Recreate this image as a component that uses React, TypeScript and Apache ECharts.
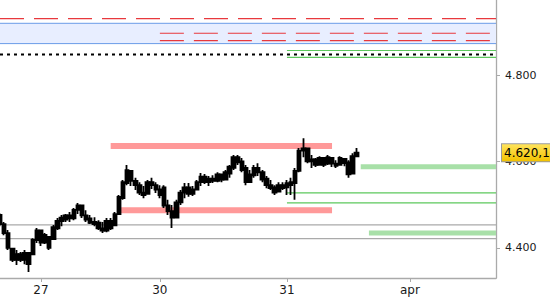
import React, { useEffect, useRef } from "react";
import * as echarts from "echarts";

// x slots (intraday time slots); day labels at session starts
const slotCount = 122;
const dayTicks = ["27", "30", "31", "apr"];
const dayStartIndex = [10, 39, 70, 100];

// OHLC bars: [open, close, low, high]
const bars: number[][] = [
  [4476, 4455, 4450, 4480], [4455, 4434, 4429, 4460], [4434, 4400, 4395, 4441], [4398, 4372, 4367, 4399],
  [4372, 4385, 4360, 4395], [4385, 4372, 4367, 4390], [4372, 4388, 4362, 4395], [4388, 4362, 4344, 4388],
  [4385, 4418, 4383, 4422], [4418, 4440, 4411, 4446], [4440, 4412, 4404, 4436], [4412, 4430, 4409, 4434],
  [4425, 4400, 4395, 4422], [4420, 4448, 4418, 4453], [4445, 4462, 4441, 4469], [4462, 4470, 4450, 4476],
  [4465, 4475, 4460, 4478], [4475, 4468, 4460, 4483], [4468, 4488, 4464, 4492], [4488, 4498, 4478, 4504],
  [4498, 4475, 4469, 4494], [4475, 4465, 4460, 4487], [4468, 4458, 4455, 4476], [4460, 4455, 4450, 4471],
  [4458, 4445, 4441, 4464], [4445, 4440, 4434, 4460], [4440, 4462, 4436, 4469], [4462, 4445, 4441, 4469],
  [4452, 4478, 4450, 4483], [4478, 4518, 4476, 4522], [4515, 4552, 4511, 4557], [4550, 4580, 4545, 4592],
  [4578, 4555, 4543, 4575], [4555, 4545, 4534, 4562], [4545, 4528, 4522, 4552], [4528, 4522, 4515, 4543],
  [4525, 4552, 4529, 4557], [4552, 4545, 4536, 4562], [4545, 4535, 4527, 4552], [4535, 4522, 4515, 4545],
  [4540, 4498, 4492, 4545], [4498, 4485, 4476, 4511], [4485, 4470, 4446, 4499], [4470, 4505, 4476, 4511],
  [4505, 4528, 4499, 4534], [4528, 4540, 4515, 4550], [4540, 4525, 4518, 4550], [4525, 4535, 4520, 4543],
  [4535, 4552, 4534, 4557], [4552, 4565, 4543, 4573], [4565, 4552, 4548, 4571], [4552, 4560, 4543, 4566],
  [4560, 4555, 4550, 4568], [4555, 4570, 4552, 4575], [4570, 4558, 4552, 4571], [4558, 4575, 4557, 4580],
  [4572, 4588, 4562, 4592], [4585, 4610, 4580, 4615], [4610, 4598, 4592, 4615], [4600, 4580, 4575, 4608],
  [4585, 4552, 4545, 4592], [4552, 4570, 4550, 4580], [4568, 4585, 4562, 4592], [4585, 4575, 4566, 4596],
  [4575, 4558, 4552, 4580], [4560, 4545, 4538, 4566], [4545, 4538, 4534, 4557], [4540, 4528, 4522, 4545],
  [4530, 4545, 4529, 4552], [4545, 4538, 4534, 4552], [4540, 4550, 4522, 4557], [4545, 4552, 4522, 4562],
  [4550, 4578, 4511, 4585], [4578, 4625, 4575, 4631], [4625, 4630, 4610, 4654], [4630, 4600, 4596, 4626],
  [4600, 4605, 4585, 4615], [4605, 4592, 4587, 4608], [4592, 4608, 4594, 4612], [4608, 4592, 4587, 4610],
  [4595, 4610, 4592, 4615], [4608, 4595, 4587, 4606], [4595, 4590, 4585, 4603], [4592, 4608, 4596, 4612],
  [4606, 4596, 4589, 4608], [4598, 4570, 4562, 4603], [4572, 4612, 4580, 4619], [4612, 4620.1, 4615, 4631],
];
const lastPrice = 4620.1;

// horizontal levels
const redDashedTop = 4931;
const blueZone = [4873, 4920];
const redDashedPair = [4897, 4880];
const redPairStart = 39;
const dottedLevel = 4848;
const greenTopPair = [4857, 4841];
const greenTopStart = 69.5;
const pinkUpper = 4636;
const pinkUpperRange = [27, 81];
const pinkLower = 4487;
const pinkLowerRange = [29, 81];
const greenThin = [4527, 4504];
const greenThinStart = 69.5;
const greenBand1 = 4588;
const greenBand1Start = 88;
const greenBand2 = 4434;
const greenBand2Start = 90;
const grayLevels = [4453, 4421];

const yTickValues = [4400, 4600, 4800];
const yMin = 4330;
const yMax = 4974;

function fmtEU(v: number, dec: number) {
  const int = Math.floor(v);
  const frac = v - int;
  const s = String(int);
  const th = s.length > 3 ? s.slice(0, s.length - 3) + "." + s.slice(-3) : s;
  if (dec === 0) return th;
  return th + "," + Math.round(frac * Math.pow(10, dec)).toString();
}

export default function App() {
  const ref = useRef<HTMLDivElement>(null);
  useEffect(() => {
    document.body.style.margin = "0";
    const chart = echarts.init(ref.current!, undefined, { renderer: "svg" });
    const cats: string[] = [];
    for (let i = 0; i < slotCount; i++) {
      const k = dayStartIndex.indexOf(i);
      cats.push(k >= 0 ? dayTicks[k] : "");
    }
    const last = slotCount - 1;
    const hLine = (name: string, v: number, x0: number, x1: number, ls: any, z = 2) => ({
      name,
      type: "line",
      data: [[x0, v], [x1, v]],
      showSymbol: false,
      symbol: "none",
      silent: true,
      animation: false,
      z,
      lineStyle: ls,
    });
    const series: any[] = [
      {
        name: "blueZone",
        type: "line",
        data: [],
        silent: true,
        markArea: {
          silent: true,
          itemStyle: { color: "#e8eeff" },
          data: [[{ yAxis: blueZone[0] }, { yAxis: blueZone[1] }]],
        },
      },
      hLine("blueTop", blueZone[1], 0, last, { color: "#6b9be8", width: 1 }),
      hLine("blueBottom", blueZone[0], 0, last, { color: "#6b9be8", width: 1 }),
      hLine("redTop", redDashedTop, 0, last, { color: "#e8383d", width: 1.2, type: [24, 10] }),
      hLine("redPair1", redDashedPair[0], redPairStart, last, { color: "#e8383d", width: 1.2, type: [24, 10] }),
      hLine("redPair2", redDashedPair[1], redPairStart, last, { color: "#e8383d", width: 1.2, type: [24, 10] }),
      hLine("greenTop1", greenTopPair[0], greenTopStart, last, { color: "#5cc85c", width: 1.2 }),
      hLine("greenTop2", greenTopPair[1], greenTopStart, last, { color: "#5cc85c", width: 1.2 }),
      hLine("dotted", dottedLevel, 0, last, { color: "#000", width: 2, type: [3, 4] }, 3),
      hLine("pinkUpper", pinkUpper, pinkUpperRange[0], pinkUpperRange[1], { color: "#ff9999", width: 6 }),
      hLine("pinkLower", pinkLower, pinkLowerRange[0], pinkLowerRange[1], { color: "#ff9999", width: 6 }),
      hLine("greenThin1", greenThin[0], greenThinStart, last, { color: "#5cc85c", width: 1.2 }),
      hLine("greenThin2", greenThin[1], greenThinStart, last, { color: "#5cc85c", width: 1.2 }),
      hLine("greenBand1", greenBand1, greenBand1Start, last, { color: "#a8e0a8", width: 5 }),
      hLine("greenBand2", greenBand2, greenBand2Start, last, { color: "#a8e0a8", width: 5 }),
      hLine("gray1", grayLevels[0], 0, last, { color: "#aaaaaa", width: 1.3 }),
      hLine("gray2", grayLevels[1], 0, last, { color: "#aaaaaa", width: 1.3 }),
      {
        name: "price",
        type: "candlestick",
        data: bars,
        barWidth: 4,
        z: 10,
        itemStyle: {
          color: "#000",
          color0: "#000",
          borderColor: "#000",
          borderColor0: "#000",
          borderWidth: 1.8,
        },
        markLine: {
          silent: true,
          symbol: "none",
          lineStyle: { color: "transparent", width: 0 },
          label: {
            position: "end",
            distance: 6,
            formatter: () => fmtEU(lastPrice, 1),
            color: "#000",
            fontFamily: "DejaVu Sans",
            fontSize: 12,
            padding: [3, 1, 2, 2],
            borderColor: "#9a9a9a",
            borderWidth: 1,
            backgroundColor: new echarts.graphic.LinearGradient(0, 0, 0, 1, [
              { offset: 0, color: "#ffe45c" },
              { offset: 1, color: "#f2c200" },
            ]),
          },
          data: [{ yAxis: lastPrice }],
        },
      },
    ];
    chart.setOption({
      animation: false,
      grid: { left: 0, right: 54, top: 0, bottom: 22, containLabel: false },
      xAxis: {
        type: "category",
        data: cats,
        boundaryGap: false,
        axisLine: { lineStyle: { color: "#aaaaaa", width: 1.3 } },
        axisTick: {
          length: 4,
          lineStyle: { color: "#aaaaaa" },
          interval: (i: number) => dayStartIndex.indexOf(i) >= 0,
        },
        axisLabel: {
          interval: (i: number) => dayStartIndex.indexOf(i) >= 0,
          color: "#1a1a1a",
          fontFamily: "DejaVu Sans",
          fontSize: 12,
          margin: 6,
        },
        splitLine: { show: false },
      },
      yAxis: {
        type: "value",
        position: "right",
        min: yMin,
        max: yMax,
        scale: true,
        axisLine: { show: true, lineStyle: { color: "#aaaaaa", width: 1.3 } },
        axisTick: { show: true, length: 4, lineStyle: { color: "#aaaaaa" }, customValues: yTickValues },
        axisLabel: {
          customValues: yTickValues,
          formatter: (v: number) => fmtEU(v, 0),
          color: "#1a1a1a",
          fontFamily: "DejaVu Sans",
          fontSize: 11,
          margin: 9,
        },
        splitLine: { show: false },
      },
      series,
    });
    return () => chart.dispose();
  }, []);
  return <div ref={ref} style={{ position: "absolute", left: 0, top: 0, width: 550, height: 300 }} />;
}
